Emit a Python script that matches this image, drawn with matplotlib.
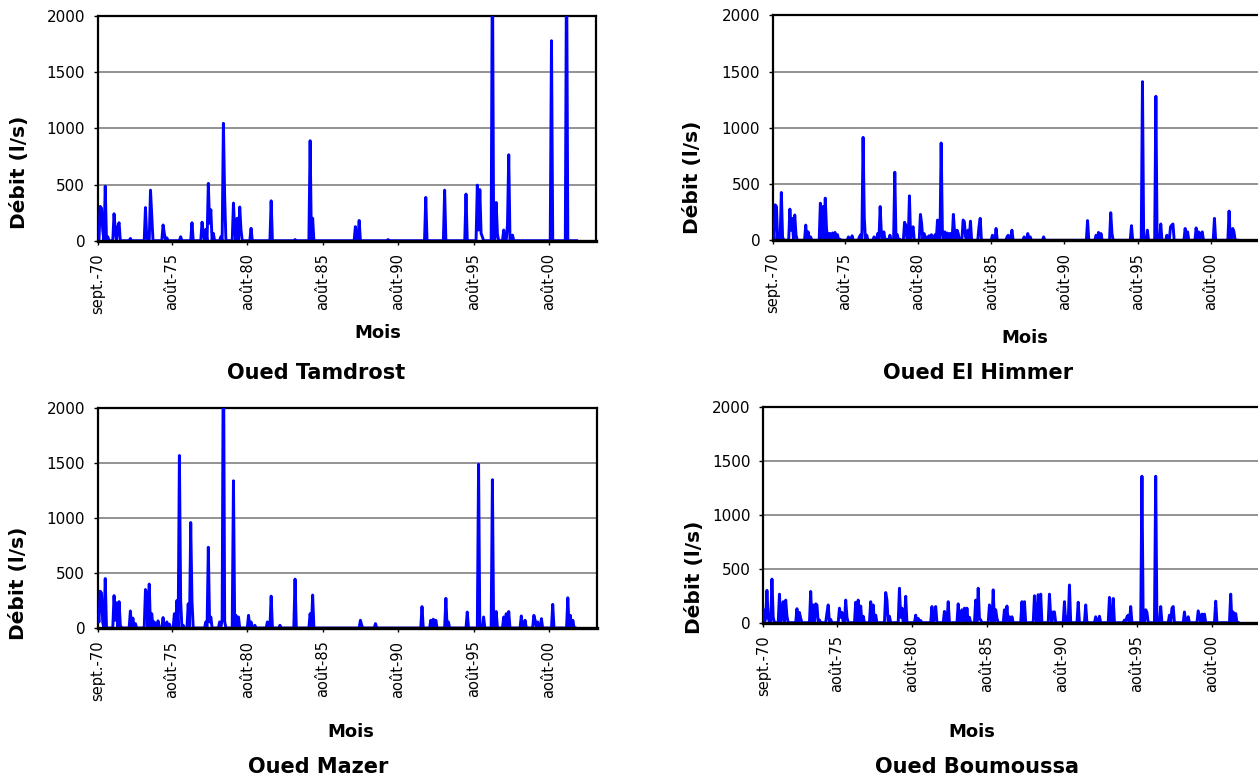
import numpy as np
import matplotlib
matplotlib.use('Agg')
import matplotlib.pyplot as plt

W, H = 1258, 780

TICK_POS = [0, 59, 119, 179, 239, 299, 359]
TICK_LABELS = ['sept.-70', 'août-75', 'août-80', 'août-85', 'août-90', 'août-95', 'août-00']
Y_TICKS = [0, 500, 1000, 1500, 2000]

# Oued Tamdrost - months since sept. 1970 with non-zero flow (l/s)
tam_mois = [2, 3, 4, 6, 8, 13, 14, 16, 17, 26, 38, 39, 42, 43, 52, 53, 55, 66, 75, 83,
            84, 86, 88, 89, 90, 92, 98, 100, 101, 108, 109, 111, 113, 114, 122, 138,
            157, 169, 171, 205, 208, 231, 261, 276, 293, 302, 303, 304, 305, 306, 314,
            317, 318, 323, 326, 327, 329, 330, 361, 373]
tam_debit = [305, 290, 95, 485, 35, 240, 95, 125, 160, 20, 295, 35, 450, 215, 140, 65, 25,
             35, 160, 165, 65, 100, 510, 155, 275, 65, 35, 1045, 395, 335, 95, 200, 300,
             95, 110, 355, 10, 890, 200, 125, 180, 10, 385, 450, 415, 495, 95, 455, 65,
             35, 2600, 340, 60, 95, 140, 765, 35, 50, 1780, 2600]

# Oued El Himmer
him_mois = [0, 2, 3, 5, 7, 8, 14, 15, 16, 18, 19, 27, 29, 31, 39, 41, 43, 44, 46, 47, 49,
            51, 53, 55, 62, 65, 71, 72, 74, 75, 77, 83, 86, 88, 89, 91, 93, 96, 100, 102,
            104, 108, 109, 112, 114, 115, 121, 122, 124, 126, 128, 130, 133, 135, 136,
            138, 139, 141, 143, 145, 146, 148, 149, 151, 152, 154, 156, 157, 158, 160,
            162, 169, 170, 180, 183, 192, 193, 196, 206, 209, 211, 222, 258, 265, 267,
            269, 277, 278, 294, 303, 307, 314, 318, 323, 326, 327, 328, 338, 340, 347,
            349, 351, 352, 362, 374, 377, 378]
him_debit = [135, 315, 300, 60, 425, 30, 277, 90, 195, 225, 50, 135, 75, 30, 330, 300,
             375, 105, 60, 60, 65, 70, 50, 10, 30, 40, 30, 50, 915, 195, 45, 30, 60, 300,
             60, 75, 10, 45, 605, 50, 10, 160, 135, 395, 90, 120, 230, 150, 60, 30, 40,
             50, 50, 180, 60, 865, 90, 75, 65, 60, 60, 230, 75, 90, 60, 10, 180, 165, 30,
             90, 170, 120, 195, 45, 105, 30, 45, 90, 30, 60, 30, 30, 175, 45, 70, 60, 245,
             60, 130, 1410, 90, 1280, 145, 45, 120, 135, 145, 105, 75, 110, 75, 60, 75,
             195, 260, 105, 75]

# Oued Mazer
maz_mois = [0, 1, 2, 3, 4, 6, 13, 14, 15, 17, 18, 26, 28, 30, 38, 39, 41, 43, 45, 48, 52,
            55, 57, 61, 63, 65, 66, 68, 72, 74, 75, 86, 88, 89, 90, 97, 99, 100, 101, 108,
            110, 112, 120, 122, 125, 135, 138, 145, 157, 169, 171, 209, 210, 221, 258,
            265, 267, 269, 277, 279, 294, 303, 307, 314, 317, 323, 325, 327, 337, 340,
            347, 348, 350, 353, 362, 374, 376, 378]
maz_debit = [160, 55, 335, 320, 50, 450, 295, 70, 230, 240, 25, 155, 90, 40, 350, 320, 400,
             130, 55, 65, 95, 55, 35, 130, 250, 1570, 250, 25, 220, 960, 250, 55, 735, 55,
             100, 55, 80, 2800, 60, 1340, 115, 100, 115, 55, 25, 55, 290, 25, 445, 130,
             300, 70, 25, 40, 195, 70, 80, 70, 270, 55, 145, 1490, 100, 1350, 150, 100,
             130, 150, 110, 70, 115, 70, 55, 85, 215, 275, 115, 70]

# Oued Boumoussa
bou_mois = [0, 2, 3, 4, 7, 8, 13, 15, 16, 18, 19, 27, 29, 30, 38, 40, 42, 43, 45, 51, 52,
            54, 61, 62, 63, 66, 67, 74, 76, 78, 80, 86, 88, 90, 98, 99, 101, 109, 110, 111,
            114, 122, 124, 126, 135, 137, 138, 145, 146, 148, 156, 158, 159, 161, 163, 165,
            170, 172, 173, 174, 181, 182, 184, 186, 187, 193, 195, 197, 199, 207, 209,
            217, 218, 220, 222, 229, 230, 232, 233, 241, 243, 245, 252, 258, 266, 269,
            277, 280, 289, 291, 292, 294, 303, 306, 307, 314, 318, 325, 327, 328, 337,
            340, 348, 349, 351, 353, 362, 374, 376, 378]
bou_debit = [120, 40, 300, 50, 405, 50, 265, 60, 195, 210, 60, 130, 95, 40, 290, 165, 175,
             165, 25, 90, 165, 30, 135, 50, 95, 210, 50, 190, 210, 155, 60, 195, 165, 70,
             280, 210, 60, 320, 50, 135, 245, 70, 40, 20, 150, 50, 150, 105, 25, 195, 175,
             40, 120, 135, 135, 50, 210, 320, 40, 25, 165, 50, 305, 120, 40, 120, 155, 55,
             55, 195, 195, 250, 55, 260, 265, 265, 55, 100, 100, 195, 55, 350, 190, 165,
             55, 60, 235, 225, 25, 55, 70, 150, 1360, 120, 95, 1360, 150, 70, 135, 150,
             100, 55, 110, 55, 80, 80, 200, 265, 100, 85]

N_MOIS = [382, 382, 381, 381]
NOMS = ['Oued Tamdrost', 'Oued El Himmer', 'Oued Mazer', 'Oued Boumoussa']
MOIS = [tam_mois, him_mois, maz_mois, bou_mois]
DEBITS = [tam_debit, him_debit, maz_debit, bou_debit]

# plot-area boxes in pixels: left, top, right, px per month, zero line
# (the right-hand charts run past the edge of the page)
BOXES = [(97.7, 16.0, 595.5, 1.257, 240.7),
         (772.8, 15.3, 1264.0, 1.220, 240.3),
         (97.7, 408.3, 596.5, 1.257, 628.0),
         (763.2, 407.3, 1264.0, 1.250, 622.7)]
# (x "Mois", y "Mois", x title, y title, x ylabel, y ylabel)
TEXTS = [(378, 333, 316, 373, 20, 172),
         (1025, 338, 978, 373, 692, 177),
         (351, 732, 318, 767, 19, 583),
         (972, 732, 977, 767, 694, 577)]

BLUE = '#0000FF'

fig = plt.figure(figsize=(W / 100, H / 100), dpi=100)

for i in range(4):
    left, top, right, ppm, zero = BOXES[i]
    ax = fig.add_axes([left / W, 1 - zero / H, (right - left) / W, (zero - top) / H])

    serie = np.zeros(N_MOIS[i])
    serie[MOIS[i]] = DEBITS[i]
    ax.plot(np.arange(N_MOIS[i]), serie, color=BLUE, lw=2.1, solid_joinstyle='round', zorder=3)

    ax.set_xlim(0, (right - left) / ppm)
    ax.set_ylim(0, 2000)
    ax.set_yticks(Y_TICKS)
    ax.set_yticklabels([str(v) for v in Y_TICKS], fontsize=11)
    ax.set_xticks(TICK_POS)
    ax.set_xticklabels(TICK_LABELS, rotation=90, fontsize=10.5, va='top', ha='center')
    ax.tick_params(axis='y', direction='out', length=3, width=1, pad=6)
    ax.tick_params(axis='x', direction='out', length=3, width=1, pad=6)

    for y in [500, 1000, 1500]:
        ax.axhline(y, color='#808080', lw=1.2, zorder=1)
    for s in ax.spines.values():
        s.set_color('black')
        s.set_linewidth(1.6)
    ax.spines['bottom'].set_linewidth(2.4)
    ax.spines['bottom'].set_zorder(4)

    mx, my, tx, ty, lx, ly = TEXTS[i]
    fig.text(mx / W, 1 - my / H, 'Mois', fontsize=13, fontweight='bold', ha='center', va='center')
    fig.text(tx / W, 1 - ty / H, NOMS[i], fontsize=15, fontweight='bold', ha='center', va='center')
    fig.text(lx / W, 1 - ly / H, 'Débit (l/s)', fontsize=14.5, fontweight='bold',
             rotation=90, ha='center', va='center')

fig.savefig('out.png', dpi=100)
print('Saved out.png')
